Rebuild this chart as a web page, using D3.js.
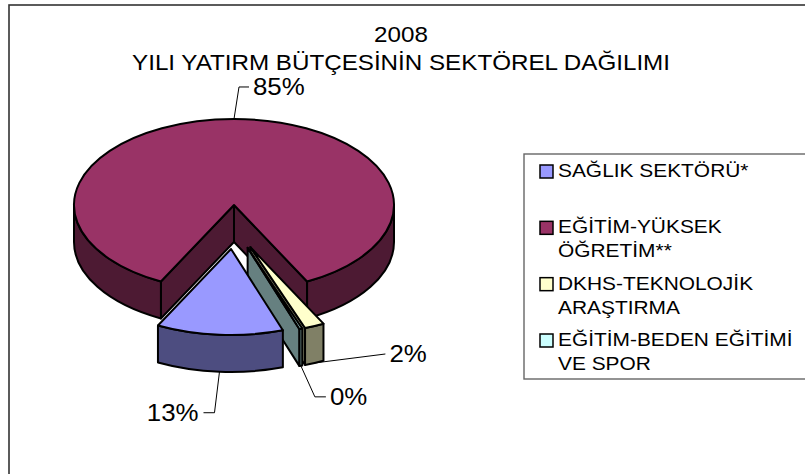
<!DOCTYPE html>
<html>
<head>
<meta charset="utf-8">
<script src="https://cdn.jsdelivr.net/npm/d3@7"></script>
<style>
  body { margin: 0; background: #fff; }
  text { font-family: "Liberation Sans", Arial, sans-serif; fill: #000; }
</style>
</head>
<body>
<div id="chart"></div>
<script>
const categories = [
  "SAĞLIK SEKTÖRÜ*",
  "EĞİTİM-YÜKSEK ÖĞRETİM**",
  "DKHS-TEKNOLOJİK ARAŞTIRMA",
  "EĞİTİM-BEDEN EĞİTİMİ VE SPOR",
];
const legendLines = [
  ["SAĞLIK SEKTÖRÜ*"],
  ["EĞİTİM-YÜKSEK", "ÖĞRETİM**"],
  ["DKHS-TEKNOLOJİK", "ARAŞTIRMA"],
  ["EĞİTİM-BEDEN EĞİTİMİ", "VE SPOR"],
];
const values = [12.8, 84.9, 2.0, 0.3];
const titleLines = ["2008", "YILI YATIRM BÜTÇESİNİN SEKTÖREL DAĞILIMI"];
const colors = ["#9999ff", "#993366", "#ffffcc", "#ccffff"];

const width = 805,
  height = 474;

// pie geometry (3D look: ellipse top + side wall)
const cx = 234,
  cy = 227,
  rx = 160,
  ry = 86,
  depth = 37,
  explode = 0.256,
  sx = 1.1; // text is a bit wide in the original

const svg = d3
  .select("#chart")
  .append("svg")
  .attr("width", width)
  .attr("height", height);

// outer chart frame
svg
  .append("rect")
  .attr("x", 9)
  .attr("y", 5)
  .attr("width", 810)
  .attr("height", 480)
  .attr("fill", "none")
  .attr("stroke", "#333")
  .attr("stroke-width", 1.6);

function addText(g, x, y, str, size, anchor) {
  return g
    .append("text")
    .attr("transform", `translate(${x},${y}) scale(${sx},1)`)
    .attr("text-anchor", anchor || "start")
    .style("font-size", size + "px")
    .text(str);
}

// title
titleLines.forEach((t, i) => addText(svg, 401, 42 + i * 28, t, 22, "middle"));

const color = d3.scaleOrdinal(categories, colors);
const side = (c) => {
  const r = d3.rgb(c);
  return d3.rgb(r.r * 0.5, r.g * 0.5, r.b * 0.5).formatHex();
};

const total = d3.sum(values);
// big slice centred on top
const start = -((values[0] + values[1] / 2) / total) * 2 * Math.PI;
const pie = d3
  .pie()
  .sort(null)
  .startAngle(start)
  .endAngle(start + 2 * Math.PI)
  .value((d) => d);

const arcs = pie(values).map((a, i) => {
  const m = (a.startAngle + a.endAngle) / 2;
  return {
    ...a,
    key: categories[i],
    mid: m,
    ox: cx + explode * rx * Math.sin(m),
    oy: cy - explode * ry * Math.cos(m),
  };
});

function pt(d, a, h) {
  return [d.ox + rx * Math.sin(a), d.oy - ry * Math.cos(a) + (h || 0)];
}

function topPath(d) {
  const p0 = pt(d, d.startAngle),
    p1 = pt(d, d.endAngle);
  const large = d.endAngle - d.startAngle > Math.PI ? 1 : 0;
  return `M${d.ox},${d.oy}L${p0}A${rx},${ry} 0 ${large} 1 ${p1}Z`;
}

function wallPaths(d) {
  const out = [];
  for (let k = -1; k <= 1; k++) {
    const lo = Math.max(d.startAngle, Math.PI / 2 + k * 2 * Math.PI);
    const hi = Math.min(d.endAngle, (3 * Math.PI) / 2 + k * 2 * Math.PI);
    if (hi > lo) {
      out.push(
        `M${pt(d, lo)}A${rx},${ry} 0 0 1 ${pt(d, hi)}L${pt(d, hi, depth)}A${rx},${ry} 0 0 0 ${pt(d, lo, depth)}Z`
      );
    }
  }
  return out;
}

function facePaths(d) {
  const out = [];
  // only the cut faces that look towards the viewer
  if (Math.sin(d.startAngle) < 0) out.push(d.startAngle);
  if (Math.sin(d.endAngle) > 0) out.push(d.endAngle);
  return out.map(
    (a) =>
      `M${d.ox},${d.oy}L${pt(d, a)}L${pt(d, a, depth)}L${d.ox},${d.oy + depth}Z`
  );
}

// back to front
const order = arcs.slice().sort((a, b) => a.oy - b.oy);

const pieG = svg
  .append("g")
  .attr("stroke", "#000")
  .attr("stroke-width", 2)
  .attr("stroke-linejoin", "round");

order.forEach((d) => {
  const g = pieG.append("g");
  facePaths(d).forEach((p) =>
    g.append("path").attr("d", p).attr("fill", side(color(d.key)))
  );
  wallPaths(d).forEach((p) =>
    g.append("path").attr("d", p).attr("fill", side(color(d.key)))
  );
  g.append("path").attr("d", topPath(d)).attr("fill", color(d.key));
});

// data labels with leader lines (points relative to the slice anchor)
const leaders = [
  [[-5, 41], [-16, 41]],
  [[5, -32], [15, -32]],
  [[71, -9]],
  [[14, 31], [25, 31]],
];
const fmt = d3.format(".0%");
const labelG = svg.append("g");

arcs.forEach((d, i) => {
  const up = Math.cos(d.mid) > 0;
  const a = pt(d, d.mid, up ? 0 : depth);
  const pts = [a].concat(leaders[i].map((o) => [a[0] + o[0], a[1] + o[1]]));
  labelG
    .append("path")
    .attr("d", d3.line()(pts))
    .attr("fill", "none")
    .attr("stroke", "#000")
    .attr("stroke-width", 1);
  const end = pts[pts.length - 1];
  const left = end[0] < a[0];
  addText(
    labelG,
    end[0] + (left ? -5 : 4),
    end[1],
    fmt(d.value / total),
    23.5,
    left ? "end" : "start"
  ).attr("dy", "0.36em");
});

// legend
const legend = svg.append("g");
legend
  .append("rect")
  .attr("x", 524)
  .attr("y", 154)
  .attr("width", 300)
  .attr("height", 225)
  .attr("fill", "#fff")
  .attr("stroke", "#666")
  .attr("stroke-width", 1.4);

const ly = d3.scalePoint().domain(categories).range([177, 346]);

categories.forEach((c, i) => {
  const y = ly(c);
  legend
    .append("rect")
    .attr("x", 540)
    .attr("y", y - 12)
    .attr("width", 13)
    .attr("height", 13)
    .attr("fill", color(c))
    .attr("stroke", "#000")
    .attr("stroke-width", 1.5);
  legendLines[i].forEach((t, j) => addText(legend, 558, y + j * 24, t, 19));
});
</script>
</body>
</html>
